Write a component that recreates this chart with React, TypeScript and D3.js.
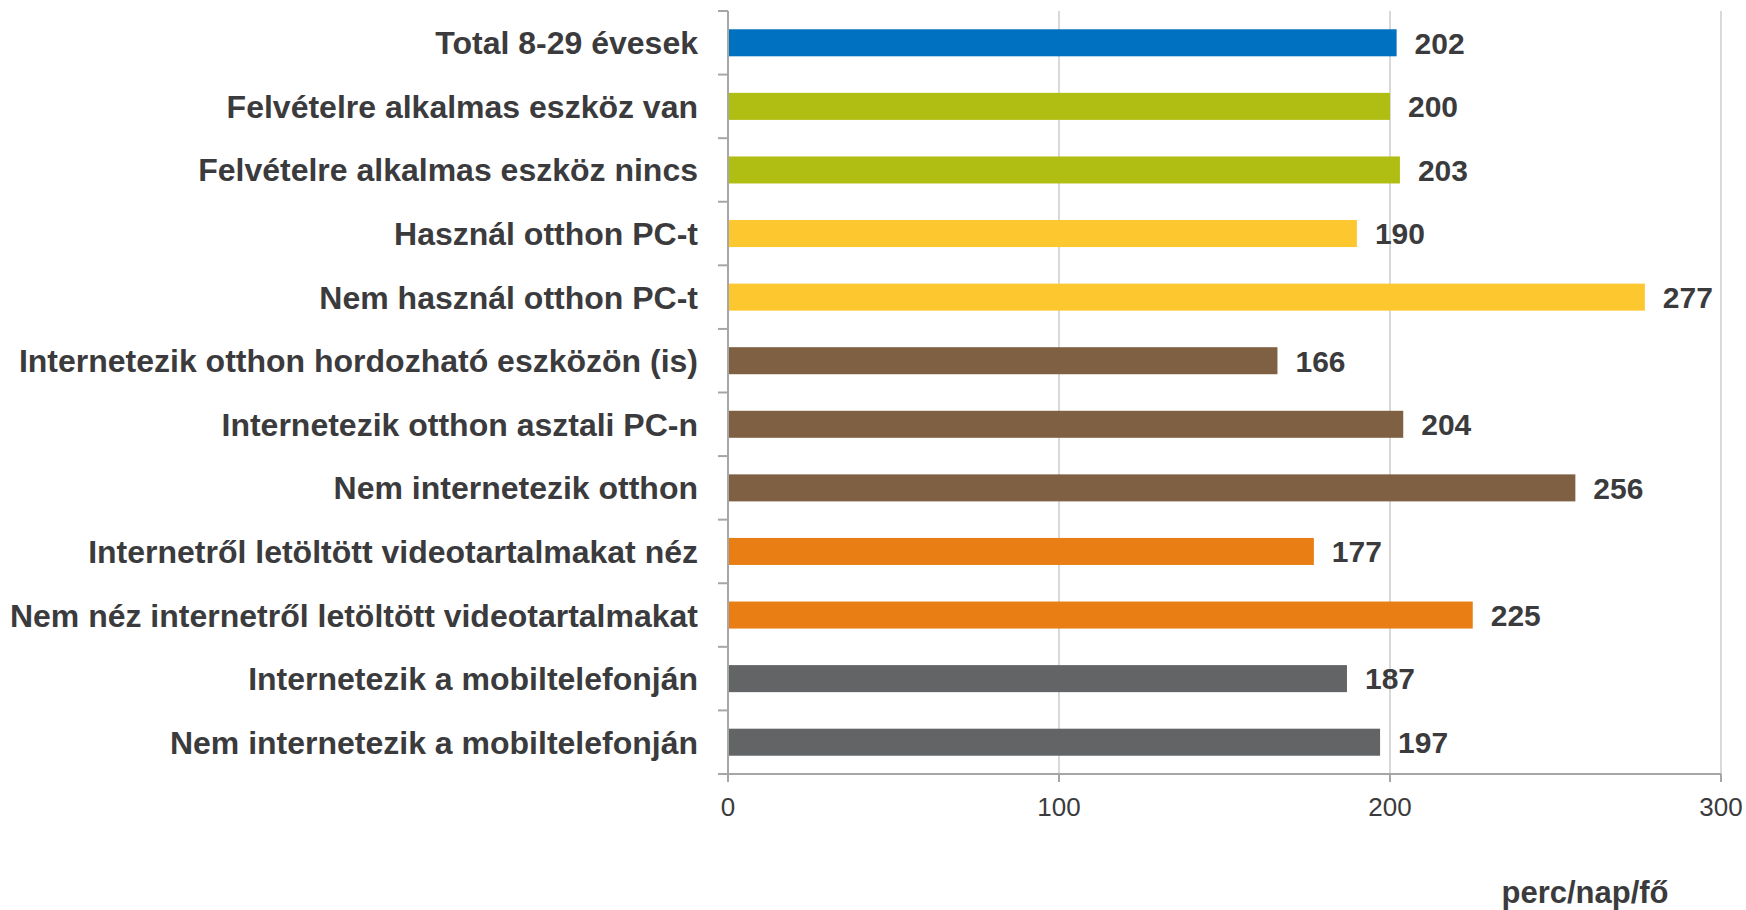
import { useEffect, useRef } from 'react';
import * as d3 from 'd3';

const categories = [
  'Total 8-29 évesek',
  'Felvételre alkalmas eszköz van',
  'Felvételre alkalmas eszköz nincs',
  'Használ otthon PC-t',
  'Nem használ otthon PC-t',
  'Internetezik otthon hordozható eszközön (is)',
  'Internetezik otthon asztali PC-n',
  'Nem internetezik otthon',
  'Internetről letöltött videotartalmakat néz',
  'Nem néz internetről letöltött videotartalmakat',
  'Internetezik a mobiltelefonján',
  'Nem internetezik a mobiltelefonján',
];

const values = [202, 200, 203, 190, 277, 166, 204, 256, 177, 225, 187, 197];

const barColors = [
  '#0070c0',
  '#b0be14', '#b0be14',
  '#fdc82f', '#fdc82f',
  '#7f6042', '#7f6042', '#7f6042',
  '#e87e14', '#e87e14',
  '#636466', '#636466',
];

const xTicks = [0, 100, 200, 300];
const unitLabel = 'perc/nap/fő';

const W = 1746;
const H = 910;
const margin = { top: 11, right: 25, bottom: 136, left: 728 };
const textColor = '#3b3b3d';
const font = 'Liberation Sans, Arial, sans-serif';

export default function App() {
  const svgRef = useRef<SVGSVGElement>(null);

  useEffect(() => {
    if (!svgRef.current) return;
    const svg = d3.select(svgRef.current);
    svg.selectAll('*').remove();

    const innerH = H - margin.top - margin.bottom;

    const x = d3.scaleLinear().domain([0, 300]).range([0, 993]);
    const y = d3.scaleBand().domain(categories).range([0, innerH]).paddingInner(0.575).paddingOuter(0.2875);
    const band = d3.scaleBand().domain(categories).range([0, innerH]);

    const g = svg.append('g').attr('transform', `translate(${margin.left},${margin.top})`);

    // grid
    g.selectAll('.grid')
      .data(xTicks.slice(1))
      .enter()
      .append('line')
      .attr('x1', d => x(d))
      .attr('x2', d => x(d))
      .attr('y1', 0)
      .attr('y2', innerH)
      .attr('stroke', '#d9d9d9')
      .attr('stroke-width', 2);

    // bars
    g.selectAll('.bar')
      .data(values)
      .enter()
      .append('rect')
      .attr('x', 0)
      .attr('y', (_, i) => y(categories[i])!)
      .attr('width', d => x(d))
      .attr('height', y.bandwidth())
      .attr('fill', (_, i) => barColors[i]);

    // value labels
    g.selectAll('.val')
      .data(values)
      .enter()
      .append('text')
      .attr('x', d => x(d) + 18)
      .attr('y', (_, i) => y(categories[i])! + y.bandwidth() / 2)
      .attr('dy', '0.36em')
      .attr('font-family', font)
      .attr('font-weight', 'bold')
      .attr('font-size', 30)
      .attr('fill', textColor)
      .text(d => d);

    // category labels
    g.selectAll('.cat')
      .data(categories)
      .enter()
      .append('text')
      .attr('x', -30)
      .attr('y', d => band(d)! + band.bandwidth() / 2)
      .attr('dy', '0.36em')
      .attr('text-anchor', 'end')
      .attr('font-family', font)
      .attr('font-weight', 'bold')
      .attr('font-size', 32)
      .attr('fill', textColor)
      .text(d => d);

    // y axis line + category ticks
    g.append('line')
      .attr('x1', 0).attr('x2', 0).attr('y1', 0).attr('y2', innerH)
      .attr('stroke', '#a6a6a6').attr('stroke-width', 2);
    g.selectAll('.ytick')
      .data(d3.range(categories.length + 1))
      .enter()
      .append('line')
      .attr('x1', -10).attr('x2', 0)
      .attr('y1', i => i * band.bandwidth())
      .attr('y2', i => i * band.bandwidth())
      .attr('stroke', '#a6a6a6').attr('stroke-width', 2);

    // x axis
    g.append('line')
      .attr('x1', 0).attr('x2', x(300)).attr('y1', innerH).attr('y2', innerH)
      .attr('stroke', '#a6a6a6').attr('stroke-width', 2);
    g.selectAll('.xtick')
      .data(xTicks)
      .enter()
      .append('line')
      .attr('x1', d => x(d)).attr('x2', d => x(d))
      .attr('y1', innerH).attr('y2', innerH + 8)
      .attr('stroke', '#a6a6a6').attr('stroke-width', 2);
    g.selectAll('.xlabel')
      .data(xTicks)
      .enter()
      .append('text')
      .attr('x', d => x(d))
      .attr('y', innerH + 42)
      .attr('text-anchor', 'middle')
      .attr('font-family', font)
      .attr('font-size', 26)
      .attr('fill', textColor)
      .text(d => d);

    svg.append('text')
      .attr('x', 1585)
      .attr('y', 903)
      .attr('text-anchor', 'middle')
      .attr('font-family', font)
      .attr('font-weight', 'bold')
      .attr('font-size', 31)
      .attr('fill', textColor)
      .text(unitLabel);
  }, []);

  return (
    <svg
      ref={svgRef}
      width={W}
      height={H}
      style={{ position: 'absolute', left: 0, top: 0, background: '#fff' }}
    />
  );
}
